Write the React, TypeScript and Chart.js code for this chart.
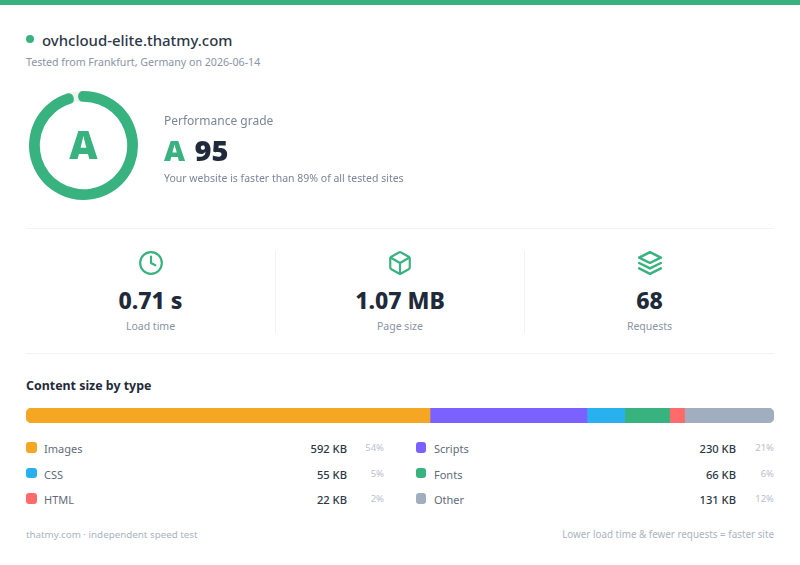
import { useEffect, useRef } from "react"
import { Chart, registerables } from "chart.js"

Chart.register(...registerables)

// grade ring: what's missing first so the score arc paints over it
const ringValues = [5, 95]
const ringColors = ["#eef2f1", "#38b27f"]

const typeNames = ["Images", "Scripts", "CSS", "Fonts", "HTML", "Other"]
const typeKb = [592, 230, 55, 66, 22, 131]
const typeLabels = ["592 KB", "230 KB", "55 KB", "66 KB", "22 KB", "131 KB"]
const typePercents = ["54%", "21%", "5%", "6%", "2%", "12%"]
const typeColors = ["#f5a623", "#7b61ff", "#29b0ee", "#38b27f", "#ff6b6b", "#a0aec0"]

const stats = [
  { value: "0.71 s", label: "Load time", icon: "clock" },
  { value: "1.07 MB", label: "Page size", icon: "box" },
  { value: "68", label: "Requests", icon: "layers" },
]

const FONT = '"Noto Sans", sans-serif'
const GREEN = "#38b27f"
const DARK = "#1f2a3a"
const SOFT_DARK = "#2d3748"

// the score arc has round caps sticking out past both of its ends
const ringCaps = {
  id: "ringCaps",
  afterDatasetUpdate(chart: Chart) {
    const arc: any = chart.getDatasetMeta(0).data[1]
    if (!arc) return
    const mid = (arc.outerRadius + arc.innerRadius) / 2
    const cap = Math.asin((arc.outerRadius - arc.innerRadius) / 2 / mid)
    arc.startAngle -= cap
    arc.endAngle += cap
    arc.circumference += cap * 2
  },
}

function Icon({ name }: { name: string }) {
  const common = {
    width: 26,
    height: 26,
    viewBox: "0 0 24 24",
    fill: "none",
    stroke: GREEN,
    strokeWidth: name === "layers" ? 2.3 : 2,
    strokeLinecap: "round" as const,
    strokeLinejoin: "round" as const,
  }
  if (name === "clock") {
    return (
      <svg {...common}>
        <circle cx="12" cy="12" r="10" />
        <polyline points="12 6 12 12 16 14" />
      </svg>
    )
  }
  if (name === "box") {
    return (
      <svg {...common}>
        <path d="M21 16V8a2 2 0 0 0-1-1.73l-7-4a2 2 0 0 0-2 0l-7 4A2 2 0 0 0 3 8v8a2 2 0 0 0 1 1.73l7 4a2 2 0 0 0 2 0l7-4A2 2 0 0 0 21 16z" />
        <polyline points="3.27 6.96 12 12.01 20.73 6.96" />
        <line x1="12" y1="22.08" x2="12" y2="12" />
      </svg>
    )
  }
  return (
    <svg {...common}>
      <polygon points="12 2 2 7 12 12 22 7 12 2" />
      <polyline points="2 17 12 22 22 17" />
      <polyline points="2 12 12 17 22 12" />
    </svg>
  )
}

export default function App() {
  const ringRef = useRef<HTMLCanvasElement | null>(null)
  const barRef = useRef<HTMLCanvasElement | null>(null)

  useEffect(() => {
    if (!ringRef.current || !barRef.current) return

    const ring = new Chart(ringRef.current, {
      type: "doughnut",
      data: {
        datasets: [
          {
            data: ringValues,
            backgroundColor: ringColors,
            borderWidth: 0,
            borderRadius: (ctx: any) => (ctx.dataIndex === 1 ? 5 : 0),
          },
        ],
      },
      options: {
        responsive: false,
        animation: false,
        radius: 54.5,
        cutout: 44.5,
        rotation: -18,
        events: [],
        plugins: { legend: { display: false }, tooltip: { enabled: false } },
      },
      plugins: [ringCaps],
    })

    const last = typeKb.length - 1
    const bar = new Chart(barRef.current, {
      type: "bar",
      data: {
        labels: ["Content size"],
        datasets: typeNames.map((name, i) => ({
          label: name,
          data: [typeKb[i]],
          backgroundColor: typeColors[i],
          borderSkipped: false,
          borderRadius:
            i === 0
              ? { topLeft: 6, bottomLeft: 6, topRight: 0, bottomRight: 0 }
              : i === last
                ? { topLeft: 0, bottomLeft: 0, topRight: 6, bottomRight: 6 }
                : 0,
        })),
      },
      options: {
        indexAxis: "y",
        responsive: false,
        animation: false,
        events: [],
        layout: { padding: 0 },
        datasets: { bar: { barPercentage: 1, categoryPercentage: 1 } },
        scales: {
          x: { stacked: true, display: false, min: 0, max: typeKb.reduce((a, b) => a + b, 0) },
          y: { stacked: true, display: false },
        },
        plugins: { legend: { display: false }, tooltip: { enabled: false } },
      },
    })

    return () => {
      ring.destroy()
      bar.destroy()
    }
  }, [])

  const abs = (left: number, top: number, extra: React.CSSProperties = {}): React.CSSProperties => ({
    position: "absolute",
    left,
    top,
    whiteSpace: "nowrap",
    ...extra,
  })

  return (
    <div style={{ position: "fixed", inset: 0, width: 800, height: 565, background: "#fff", fontFamily: FONT, overflow: "hidden" }}>
      <div style={abs(0, 0, { width: 800, height: 5, background: GREEN })} />

      <div style={abs(26, 35, { width: 8, height: 8, borderRadius: "50%", background: GREEN })} />
      <div style={abs(42, 29.5, { fontSize: 14.95, lineHeight: "20px", fontWeight: 500, color: SOFT_DARK })}>ovhcloud-elite.thatmy.com</div>
      <div style={abs(26, 54, { fontSize: 10.64, lineHeight: "16px", color: "#8a94a6" })}>Tested from Frankfurt, Germany on 2026-06-14</div>

      <canvas ref={ringRef} width={111} height={111} style={abs(28, 90, { display: "block" })} />
      <div style={abs(28, 119, { width: 111, textAlign: "center", fontSize: 39, lineHeight: "50px", fontWeight: 900, color: GREEN })}>A</div>

      <div style={abs(164, 112, { fontSize: 12, lineHeight: "18px", color: "#7b8698" })}>Performance grade</div>
      <div style={abs(164, 131, { fontSize: 29, lineHeight: "38px", fontWeight: 900 })}>
        <span style={{ color: GREEN }}>A</span> <span style={{ color: DARK, marginLeft: 2 }}>95</span>
      </div>
      <div style={abs(164, 170, { fontSize: 10.5, lineHeight: "16px", color: "#7b8698" })}>Your website is faster than 89% of all tested sites</div>

      <div style={abs(26, 228, { width: 748, height: 1, background: "#f1f3f6" })} />
      <div style={abs(275, 251, { width: 1, height: 82, background: "#f1f3f6" })} />
      <div style={abs(524, 251, { width: 1, height: 82, background: "#f1f3f6" })} />
      {stats.map((s, i) => (
        <div key={s.label} style={abs(26 + i * 249.5, 250, { width: 249, textAlign: "center" })}>
          <div style={{ height: 26 }}>
            <Icon name={s.icon} />
          </div>
          <div style={{ marginTop: 9, fontSize: 23, lineHeight: "30px", fontWeight: 800, color: DARK }}>{s.value}</div>
          <div style={{ marginTop: 3, fontSize: 10.5, lineHeight: "16px", color: "#8a94a6" }}>{s.label}</div>
        </div>
      ))}
      <div style={abs(26, 353, { width: 748, height: 1, background: "#f1f3f6" })} />

      <div style={abs(26, 377, { fontSize: 12.4, lineHeight: "18px", fontWeight: 700, color: DARK })}>Content size by type</div>

      <canvas ref={barRef} width={748} height={15} style={abs(26, 408, { display: "block" })} />

      {typeNames.map((name, i) => {
        const col = i % 2
        const row = Math.floor(i / 2)
        const left = col === 0 ? 26 : 416
        const top = 441 + row * 25.7
        return (
          <div key={name}>
            <div style={abs(col === 0 ? left : 415.5, top + 1, { width: 10.5, height: 10.5, borderRadius: 3, background: typeColors[i] })} />
            <div style={abs(left + 18, top, { fontSize: 11, lineHeight: "16px", color: "#5f6b7c" })}>{name}</div>
            <div style={abs(col === 0 ? 247 : 636, top, { width: 100, textAlign: "right", fontSize: 11.2, lineHeight: "16px", fontWeight: 500, color: SOFT_DARK })}>{typeLabels[i]}</div>
            <div style={abs(left + 318, top, { width: 40, textAlign: "right", fontSize: 9.5, lineHeight: "14px", color: "#b9c0cc" })}>{typePercents[i]}</div>
          </div>
        )
      })}

      <div style={abs(26, 527, { fontSize: 9.8, lineHeight: "15px", color: "#a9b3c2" })}>thatmy.com · independent speed test</div>
      <div style={abs(474, 527, { width: 300, textAlign: "right", fontSize: 9.85, lineHeight: "15px", color: "#a9b3c2" })}>Lower load time &amp; fewer requests = faster site</div>
    </div>
  )
}
